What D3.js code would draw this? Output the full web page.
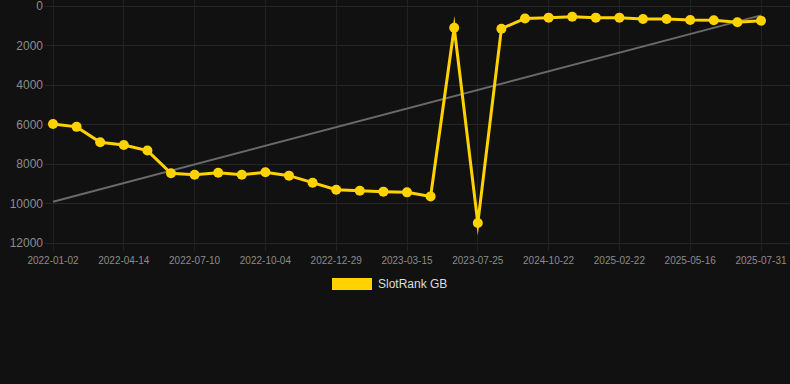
<!DOCTYPE html>
<html><head><meta charset="utf-8">
<script src="https://cdn.jsdelivr.net/npm/d3@7"></script>
<style>
html,body{margin:0;padding:0;background:#111111;}
svg{display:block;font-family:"Liberation Sans",Arial,sans-serif;}
</style></head>
<body><svg id="c" width="790" height="384"></svg>
<script>
const dates = ["2022-01-02","2022-02-05","2022-03-11","2022-04-14","2022-05-13","2022-06-11",
  "2022-07-10","2022-08-08","2022-09-06","2022-10-04","2022-11-02","2022-12-01",
  "2022-12-29","2023-01-24","2023-02-18","2023-03-15","2023-04-28","2023-06-11",
  "2023-07-25","2023-11-30","2024-06-10","2024-10-22","2024-12-02","2025-01-12",
  "2025-02-22","2025-03-21","2025-04-18","2025-05-16","2025-06-10","2025-07-05","2025-07-31"];
const rank = [5975,6120,6900,7040,7320,8470,8540,8440,8540,8420,8590,8945,
  9300,9350,9400,9435,9640,1100,10990,1150,630,590,540,590,
  590,660,660,710,725,825,745];
const yTicks = [0,2000,4000,6000,8000,10000,12000];
const seriesName = "SlotRank GB";

const svg = d3.select("#c");
const x = d3.scalePoint().domain(dates).range([53,761]);
const y = d3.scaleLinear().domain([0,12000]).range([6,243]);
const shown = dates.filter((d,i)=>i%3===0);

// grid
const g = svg.append("g");
g.selectAll("line.h").data(yTicks).join("line")
  .attr("x1",45).attr("x2",790).attr("y1",d=>y(d)).attr("y2",d=>y(d))
  .attr("stroke","#262626").attr("stroke-width",1).attr("shape-rendering","crispEdges");
g.selectAll("line.v").data(shown).join("line")
  .attr("x1",d=>x(d)).attr("x2",d=>x(d)).attr("y1",0).attr("y2",251)
  .attr("stroke","#222222").attr("stroke-width",1).attr("shape-rendering","crispEdges");

// y axis labels
svg.append("g").selectAll("text").data(yTicks).join("text")
  .attr("x",43).attr("y",d=>y(d)).attr("dy","0.35em")
  .attr("text-anchor","end").attr("font-size",12).attr("fill","#8c8c8c")
  .text(d=>d);

// x axis labels
svg.append("g").selectAll("text").data(shown).join("text")
  .attr("x",d=>x(d)).attr("y",264)
  .attr("text-anchor","middle").attr("font-size",10).attr("fill","#8c8c8c")
  .text(d=>d);

// trend line (least squares regression over index)
const n = rank.length;
const idx = d3.range(n);
const mx = d3.mean(idx), my = d3.mean(rank);
const slope = d3.sum(idx,i=>(i-mx)*(rank[i]-my))/d3.sum(idx,i=>(i-mx)*(i-mx));
const icpt = my - slope*mx;
svg.append("line")
  .attr("x1",x(dates[0])).attr("y1",y(icpt))
  .attr("x2",x(dates[n-1])).attr("y2",y(icpt+slope*(n-1)))
  .attr("stroke","#6a6a6a").attr("stroke-width",2);

// series line
const line = d3.line().x((d,i)=>x(dates[i])).y(d=>y(d));
svg.append("path").datum(rank).attr("d",line)
  .attr("fill","none").attr("stroke","#FFD200").attr("stroke-width",3)
  .attr("stroke-linejoin","miter").attr("stroke-miterlimit",10);
svg.append("g").selectAll("circle").data(rank).join("circle")
  .attr("cx",(d,i)=>x(dates[i])).attr("cy",d=>y(d)).attr("r",5)
  .attr("fill","#FFD200");

// legend
svg.append("rect").attr("x",332).attr("y",278).attr("width",40).attr("height",12)
  .attr("fill","#FFD200");
svg.append("text").attr("x",378).attr("y",284).attr("dy","0.35em")
  .attr("font-size",12).attr("fill","#dddddd").text(seriesName);
</script></body></html>
